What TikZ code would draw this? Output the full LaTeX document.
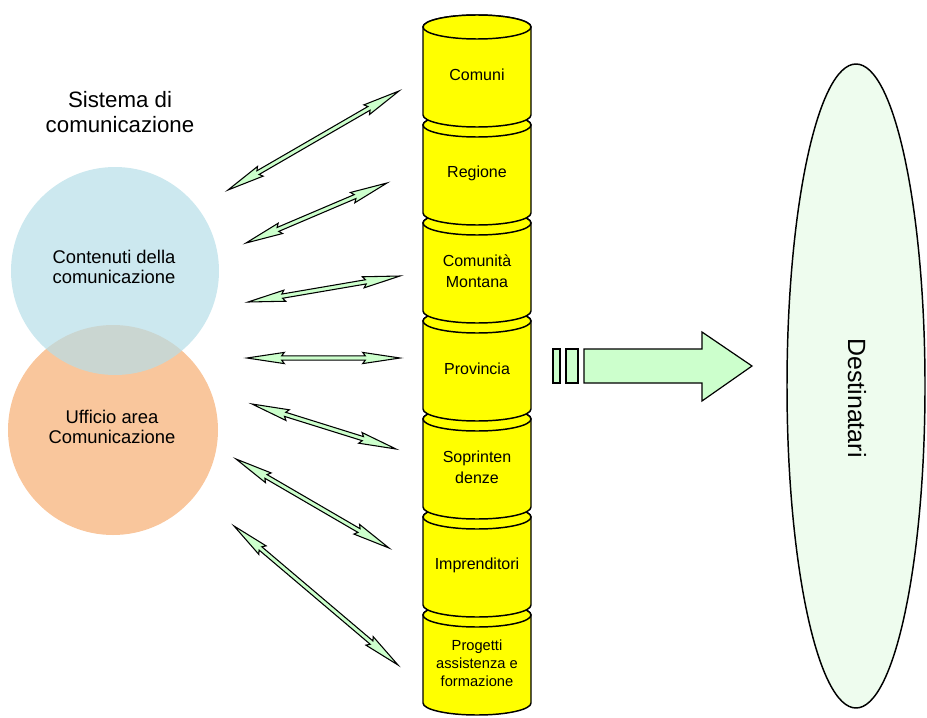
\documentclass[tikz,border=0pt]{standalone}
\usepackage{fontspec}
\setmainfont{Liberation Sans}
\usetikzlibrary{calc}

\definecolor{cylyellow}{HTML}{FFFF00}
\definecolor{arrowgreen}{HTML}{CCFFCC}
\definecolor{aquafill}{HTML}{B7DEE8}
\definecolor{orangefill}{HTML}{F9C69C}
\definecolor{destfill}{HTML}{EEFCEE}

% double-headed slim arrow between two named coordinates
\newcommand\twoheadarrow[2]{%
  \pgfpointdiff{\pgfpointanchor{#1}{center}}{\pgfpointanchor{#2}{center}}%
  \pgfgetlastxy\arrdx\arrdy
  \pgfmathsetmacro\arrang{atan2(\arrdy,\arrdx)}%
  \pgfmathsetmacro\arrlen{veclen(\arrdx,\arrdy)}%
  \pgfmathsetmacro\arrneck{\arrlen-26}%
  \pgfmathsetmacro\arrbarb{\arrlen-28}%
  \begin{scope}[shift={(#1)}, rotate=\arrang]
    \draw[linkarrow] (0pt,0pt) -- (28pt,4.2pt) -- (26pt,1.6pt)
      -- (\arrneck pt,1.6pt) -- (\arrbarb pt,4.2pt) -- (\arrlen pt,0pt)
      -- (\arrbarb pt,-4.2pt) -- (\arrneck pt,-1.6pt)
      -- (26pt,-1.6pt) -- (28pt,-4.2pt) -- cycle;
  \end{scope}}

% one cylinder of the stack: top centre y, name, label, label style
\newcommand\stackcyl[4]{%
  \pgfmathsetmacro\cyltop{#1}%
  \pgfmathsetmacro\cylbot{#1+88}%
  \draw[cylbody] (423,\cyltop) -- (423,\cylbot)
    arc[start angle=180, end angle=0, x radius=54, y radius=12]
    -- (531,\cyltop)
    arc[start angle=360, end angle=180, x radius=54, y radius=12] -- cycle;
  \draw[cylbody] (477,\cyltop) ellipse[x radius=54, y radius=12];
  \node[#4] (#2) at (477,{#1+48}) {#3};}

\begin{document}
\begin{tikzpicture}[x=0.75pt, y=-0.75pt,
  cylbody/.style={fill=cylyellow, draw=black, line width=1.1pt},
  cyllabel/.style={align=center, font=\fontsize{12}{15.5}\selectfont},
  cylsmall/.style={align=center, font=\fontsize{11}{13.5}\selectfont},
  linkarrow/.style={fill=arrowgreen, draw=black, line width=0.8pt, line join=miter},
  bigarrow/.style={fill=arrowgreen, draw=black, line width=0.9pt},
  circlabel/.style={align=center, font=\fontsize{13.8}{15}\selectfont}]
\useasboundingbox (0,0) rectangle (927,717);

% left circles
\fill[orangefill] (113,430) circle[radius=105];
\fill[aquafill, fill opacity=0.7] (115,271) circle[radius=104];
\node[align=center, font=\fontsize{16.7}{18.8}\selectfont] (sys) at (120,112) {Sistema di\\comunicazione};
\node[circlabel] (cont) at (114,267) {Contenuti della\\comunicazione};
\node[circlabel] (uff) at (112,427) {Ufficio area\\Comunicazione};

% stack of cylinders, drawn from the bottom up
\stackcyl{615}{c6}{Progetti\\assistenza e\\formazione}{cylsmall}
\stackcyl{517}{c5}{Imprenditori}{cyllabel}
\stackcyl{419}{c4}{Soprinten\\denze}{cyllabel}
\stackcyl{321}{c3}{Provincia}{cyllabel}
\stackcyl{223}{c2}{Comunità\\Montana}{cyllabel}
\stackcyl{125}{c1}{Regione}{cyllabel}
\stackcyl{27}{c0}{Comuni}{cyllabel}

% arrow end points
\coordinate (a1) at (228,190); \coordinate (b1) at (399,91);
\coordinate (a2) at (246,243); \coordinate (b2) at (387,183);
\coordinate (a3) at (248,302); \coordinate (b3) at (400,276);
\coordinate (a4) at (247,358); \coordinate (b4) at (400,358);
\coordinate (a5) at (252,404); \coordinate (b5) at (396,449);
\coordinate (a6) at (236,459); \coordinate (b6) at (389,548);
\coordinate (a7) at (234,526); \coordinate (b7) at (398,665);
\foreach \i in {1,...,7} {\twoheadarrow{a\i}{b\i}}

% big arrow towards the recipients
\draw[bigarrow] (553,349) rectangle (560,383);
\draw[bigarrow] (566,349) rectangle (578,383);
\draw[bigarrow] (584,349) -- (702,349) -- (702,332) -- (752,366)
  -- (702,401) -- (702,383) -- (584,383) -- cycle;

% recipients
\draw[fill=destfill, line width=1.1pt] (856,386) ellipse[x radius=69, y radius=322];
\node[rotate=-90, font=\fontsize{18.7}{20}\selectfont] (dest) at (857,398) {Destinatari};
\end{tikzpicture}
\end{document}
